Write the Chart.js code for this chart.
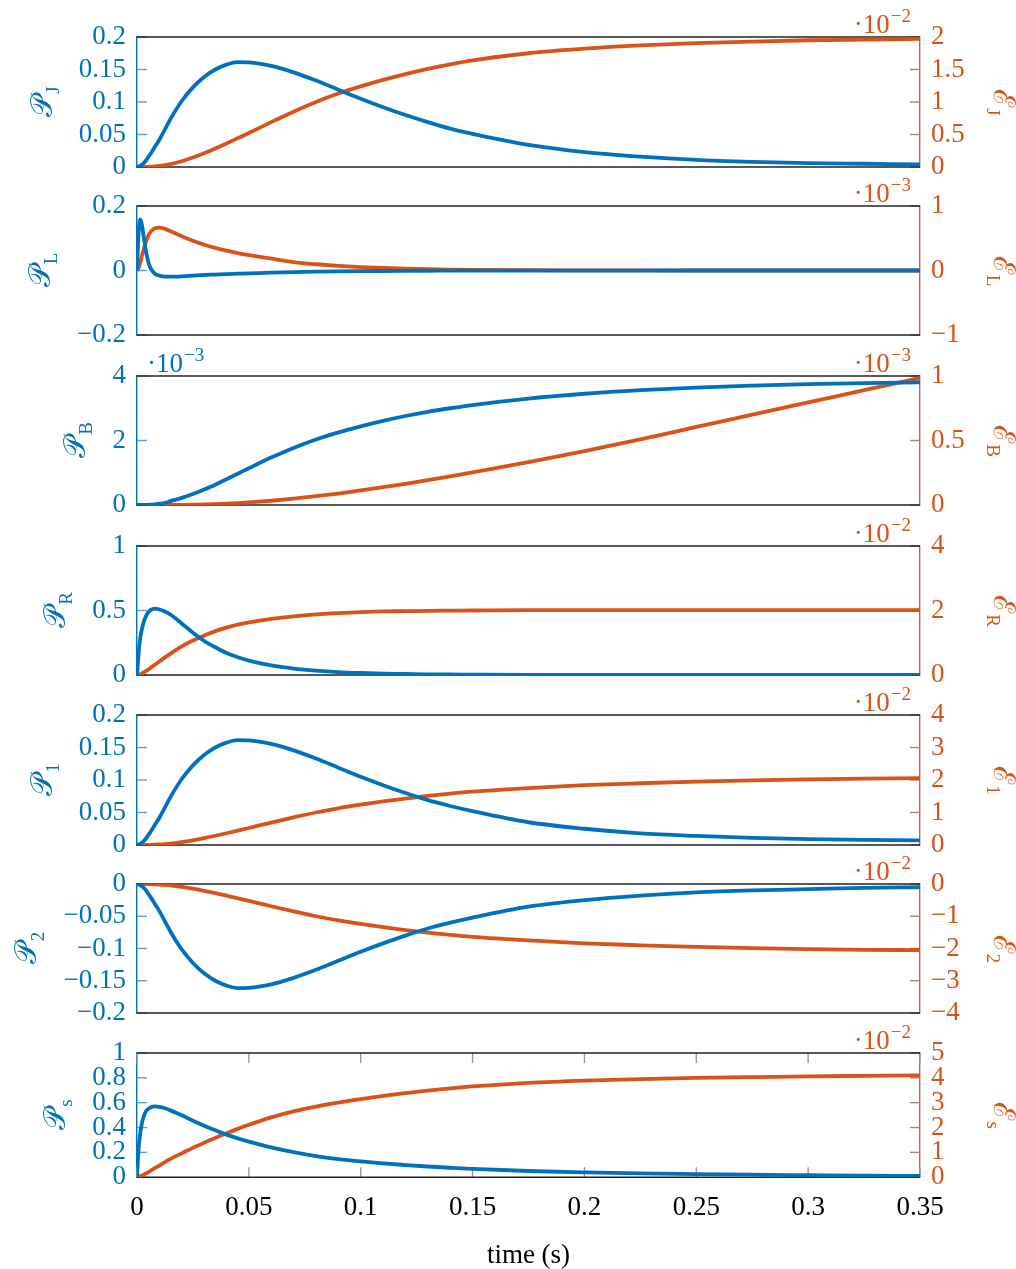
<!DOCTYPE html>
<html>
<head>
<meta charset="utf-8">
<style>
  html, body { margin: 0; padding: 0; background: #fff; }
  #page { position: relative; width: 1016px; height: 1269px; overflow: hidden; }
  .panel { position: absolute; left: 0; width: 1016px; }
</style>
</head>
<body>
<div id="page"></div>
<script src="https://cdn.jsdelivr.net/npm/chart.js@4.4.1/dist/chart.umd.min.js"></script>
<script>
// time samples (s)
var time = [0, 0.0005, 0.001, 0.0015, 0.002, 0.003, 0.004, 0.005, 0.006, 0.008,
            0.01, 0.0125, 0.015, 0.02, 0.025, 0.03, 0.035, 0.04, 0.045, 0.05,
            0.06, 0.07, 0.08, 0.09, 0.1, 0.11, 0.12, 0.13, 0.14, 0.15,
            0.175, 0.2, 0.225, 0.25, 0.275, 0.3, 0.325, 0.35];

// power (left axes) and energy (right axes, in units of the axis multiplier)
var pJ = [0, 0.0005, 0.001, 0.002, 0.003, 0.006, 0.010, 0.015, 0.020, 0.031,
          0.042, 0.058, 0.074, 0.1015, 0.1225, 0.1385, 0.150, 0.1575, 0.1614, 0.161,
          0.1555, 0.1455, 0.133, 0.119, 0.105, 0.092, 0.080, 0.069, 0.059, 0.051,
          0.034, 0.023, 0.016, 0.011, 0.008, 0.006, 0.005, 0.004];
var eJ = [0, 0, 0, 0, 0, 0.001, 0.002, 0.003, 0.005, 0.01,
          0.017, 0.029, 0.045, 0.089, 0.146, 0.212, 0.285, 0.362, 0.442, 0.523,
          0.69, 0.85, 1.0, 1.13, 1.24, 1.34, 1.43, 1.51, 1.58, 1.64,
          1.75, 1.82, 1.87, 1.905, 1.93, 1.95, 1.96, 1.97];

var pL = [0, 0.09, 0.145, 0.158, 0.148, 0.105, 0.06, 0.028, 0.008, -0.010,
          -0.016, -0.019, -0.019, -0.018, -0.016, -0.014, -0.0125, -0.011, -0.010, -0.009,
          -0.0065, -0.0048, -0.0035, -0.0026, -0.002, -0.0015, -0.0011, -0.0008, -0.0006, -0.0005,
          -0.0003, -0.0002, -0.0001, 0, 0, 0, 0, 0];
var eL = [0, 0.02, 0.07, 0.13, 0.2, 0.33, 0.445, 0.535, 0.595, 0.655,
          0.665, 0.645, 0.61, 0.53, 0.46, 0.40, 0.35, 0.307, 0.27, 0.24,
          0.183, 0.13, 0.097, 0.072, 0.053, 0.039, 0.029, 0.021, 0.015, 0.011,
          0.005, 0.002, 0.001, 0, 0, 0, 0, 0];

var pB = [0, 0, 0, 0, 0, 0.002, 0.004, 0.007, 0.011, 0.022,
          0.04, 0.07, 0.12, 0.22, 0.34, 0.48, 0.63, 0.8, 0.97, 1.14,
          1.47, 1.77, 2.03, 2.25, 2.44, 2.61, 2.76, 2.89, 3.0, 3.1,
          3.3, 3.45, 3.56, 3.64, 3.7, 3.75, 3.78, 3.8];
var eB = [0, 0, 0, 0, 0, 0, 0, 0, 0, 0,
          0, 0, 0, 0.001, 0.002, 0.004, 0.007, 0.011, 0.015, 0.02,
          0.033, 0.049, 0.068, 0.089, 0.113, 0.138, 0.164, 0.193, 0.222, 0.253,
          0.333, 0.418, 0.508, 0.605, 0.70, 0.795, 0.89, 0.985];

var pR = [0, 0.12, 0.22, 0.29, 0.34, 0.41, 0.455, 0.485, 0.503, 0.515,
          0.508, 0.493, 0.468, 0.40, 0.328, 0.265, 0.215, 0.17, 0.138, 0.112,
          0.074, 0.05, 0.034, 0.023, 0.016, 0.011, 0.008, 0.005, 0.004, 0.003,
          0.001, 0.0005, 0, 0, 0, 0, 0, 0];
var eR = [0, 0.003, 0.011, 0.024, 0.04, 0.077, 0.12, 0.167, 0.217, 0.32,
          0.42, 0.545, 0.665, 0.89, 1.07, 1.22, 1.36, 1.47, 1.56, 1.63,
          1.74, 1.82, 1.88, 1.92, 1.95, 1.97, 1.98, 1.99, 1.995, 2.0,
          2.01, 2.01, 2.01, 2.01, 2.01, 2.01, 2.01, 2.01];

var p1 = [0, 0.0005, 0.001, 0.002, 0.003, 0.006, 0.010, 0.015, 0.020, 0.031,
          0.042, 0.058, 0.074, 0.1015, 0.1225, 0.1385, 0.150, 0.1575, 0.1614, 0.161,
          0.1555, 0.1455, 0.133, 0.119, 0.105, 0.092, 0.080, 0.069, 0.060, 0.052,
          0.035, 0.025, 0.018, 0.014, 0.011, 0.009, 0.008, 0.007];
var e1 = [0, 0, 0, 0, 0, 0.001, 0.002, 0.003, 0.005, 0.01,
          0.017, 0.029, 0.045, 0.089, 0.146, 0.212, 0.285, 0.362, 0.442, 0.523,
          0.69, 0.85, 1.0, 1.13, 1.24, 1.34, 1.43, 1.51, 1.58, 1.64,
          1.75, 1.84, 1.90, 1.95, 1.99, 2.02, 2.04, 2.06];

var p2 = [0, -0.0005, -0.001, -0.002, -0.003, -0.006, -0.010, -0.015, -0.020, -0.031,
          -0.042, -0.058, -0.074, -0.1015, -0.1225, -0.1385, -0.150, -0.1575, -0.1614, -0.161,
          -0.1555, -0.1455, -0.133, -0.119, -0.105, -0.092, -0.080, -0.069, -0.060, -0.052,
          -0.035, -0.025, -0.018, -0.013, -0.010, -0.008, -0.006, -0.005];
var e2 = [0, 0, 0, 0, 0, -0.001, -0.002, -0.003, -0.005, -0.01,
          -0.017, -0.029, -0.045, -0.089, -0.146, -0.212, -0.285, -0.362, -0.442, -0.523,
          -0.69, -0.85, -1.0, -1.13, -1.24, -1.34, -1.43, -1.51, -1.58, -1.64,
          -1.75, -1.84, -1.90, -1.95, -1.99, -2.02, -2.04, -2.05];

var pS = [0, 0.17, 0.285, 0.36, 0.42, 0.49, 0.53, 0.55, 0.562, 0.57,
          0.567, 0.555, 0.538, 0.498, 0.455, 0.415, 0.378, 0.343, 0.313, 0.287,
          0.240, 0.201, 0.170, 0.146, 0.127, 0.111, 0.098, 0.086, 0.076, 0.067,
          0.05, 0.039, 0.031, 0.025, 0.02, 0.016, 0.012, 0.01];
var eS = [0, 0.005, 0.02, 0.036, 0.056, 0.1, 0.152, 0.2, 0.255, 0.365,
          0.47, 0.61, 0.74, 0.96, 1.18, 1.39, 1.58, 1.77, 1.945, 2.11,
          2.41, 2.65, 2.84, 3.0, 3.14, 3.27, 3.385, 3.485, 3.575, 3.655,
          3.8, 3.89, 3.95, 3.995, 4.03, 4.06, 4.08, 4.1];

// axis ranges [min, max, step]
var xRange = [0, 0.35, 0.05];

var BLUE = '#0072BD', ORANGE = '#D95319';
var FONT = "'Liberation Serif', 'DejaVu Serif', serif";
var TICK_SIZE = 27;

var panels = [
  { top: 37,   bottom: 167,  sub: 'J', left: pJ, right: eJ, lr: [0, 0.2, 0.05],   rr: [0, 2, 0.5],  rexp: '\u22122' },
  { top: 206,  bottom: 335,  sub: 'L', left: pL, right: eL, lr: [-0.2, 0.2, 0.2], rr: [-1, 1, 1],   rexp: '\u22123' },
  { top: 376,  bottom: 505,  sub: 'B', left: pB, right: eB, lr: [0, 4, 2],        rr: [0, 1, 0.5],  rexp: '\u22123', lexp: '\u22123' },
  { top: 546,  bottom: 675,  sub: 'R', left: pR, right: eR, lr: [0, 1, 0.5],      rr: [0, 4, 2],    rexp: '\u22122' },
  { top: 715,  bottom: 845,  sub: '1', left: p1, right: e1, lr: [0, 0.2, 0.05],   rr: [0, 4, 1],    rexp: '\u22122' },
  { top: 884,  bottom: 1013, sub: '2', left: p2, right: e2, lr: [-0.2, 0, 0.05],  rr: [-4, 0, 1],   rexp: '\u22122' },
  { top: 1053, bottom: 1182, sub: 's', left: pS, right: eS, lr: [0, 1, 0.2],      rr: [0, 5, 1],    rexp: '\u22122', last: true }
];

function fmt(v) {
  var s = String(+Number(v).toFixed(4));
  return s.replace('-', '\u2212');
}

function pts(vals) {
  return time.map(function (t, i) { return { x: t, y: vals[i] }; });
}

function seg(ctx, x1, y1, x2, y2) {
  ctx.beginPath(); ctx.moveTo(x1, y1); ctx.lineTo(x2, y2); ctx.stroke();
}

function drawExp(ctx, exp, x, y, align, color) {
  ctx.save();
  ctx.fillStyle = color;
  ctx.textBaseline = 'alphabetic';
  ctx.textAlign = 'left';
  ctx.font = TICK_SIZE + 'px ' + FONT;
  var w1 = ctx.measureText('\u00b710').width;
  ctx.font = '19px ' + FONT;
  var w2 = ctx.measureText(exp).width;
  var x0 = align === 'right' ? x - w1 - w2 : x;
  ctx.font = TICK_SIZE + 'px ' + FONT;
  ctx.fillText('\u00b710', x0, y);
  ctx.font = '19px ' + FONT;
  ctx.fillText(exp, x0 + w1 + 1, y - 11);
  ctx.restore();
}

function drawTitle(ctx, main, sub, cx, cy, rot, color) {
  ctx.save();
  ctx.translate(cx, cy);
  ctx.rotate(rot);
  ctx.fillStyle = color;
  ctx.textBaseline = 'middle';
  ctx.textAlign = 'left';
  ctx.font = '30px ' + FONT;
  var w1 = ctx.measureText(main).width;
  ctx.font = '19px ' + FONT;
  var w2 = ctx.measureText(sub).width;
  var x0 = -(w1 + w2) / 2;
  ctx.font = '30px ' + FONT;
  ctx.fillText(main, x0, -2);
  ctx.font = '19px ' + FONT;
  ctx.fillText(sub, x0 + w1 + 1, 8);
  ctx.restore();
}

var framePlugin = {
  id: 'frame',
  beforeDatasetsDraw: function (chart) {
    var ctx = chart.ctx, a = chart.chartArea, p = chart.options.panel;
    var L = chart.scales.yL, R = chart.scales.yR, X = chart.scales.x;
    ctx.save();
    ctx.lineWidth = 1.4;
    ctx.strokeStyle = '#5d9fd3';
    L.ticks.forEach(function (t) {
      var y = L.getPixelForValue(t.value);
      seg(ctx, a.left, y, a.left + 10, y);
    });
    ctx.strokeStyle = '#b08070';
    R.ticks.forEach(function (t) {
      var y = R.getPixelForValue(t.value);
      seg(ctx, a.right - 10, y, a.right, y);
    });
    if (p.last) {
      ctx.strokeStyle = '#999';
      X.ticks.forEach(function (t) {
        var x = X.getPixelForValue(t.value);
        seg(ctx, x, a.top, x, a.top + 10);
        seg(ctx, x, a.bottom, x, a.bottom - 10);
      });
    }
    ctx.strokeStyle = '#222';
    ctx.lineWidth = 1.5;
    seg(ctx, a.left, a.top, a.right, a.top);
    seg(ctx, a.left, a.bottom, a.right, a.bottom);
    ctx.restore();
  },
  afterDraw: function (chart) {
    var ctx = chart.ctx, a = chart.chartArea, p = chart.options.panel;
    var L = chart.scales.yL;
    var cy = (a.top + a.bottom) / 2;
    // left title placed beyond the widest tick label
    ctx.save();
    ctx.font = TICK_SIZE + 'px ' + FONT;
    var maxW = 0;
    L.ticks.forEach(function (t) { maxW = Math.max(maxW, ctx.measureText(t.label).width); });
    ctx.restore();
    var lx = a.left - 11 - maxW - 33;
    drawTitle(ctx, '\uD835\uDCAB', p.sub, lx, cy, -Math.PI / 2, BLUE);
    drawTitle(ctx, '\u2130', p.sub, 1000, cy, Math.PI / 2, ORANGE);
    if (p.rexp) drawExp(ctx, p.rexp, a.right - 10, a.top - 4, 'right', ORANGE);
    if (p.lexp) drawExp(ctx, p.lexp, a.left + 10, a.top - 4, 'left', BLUE);
  }
};

function makePanel(p) {
  var wrap = document.createElement('div');
  wrap.className = 'panel';
  wrap.style.height = '220px';
  wrap.style.top = '0px';
  var cv = document.createElement('canvas');
  wrap.appendChild(cv);
  document.getElementById('page').appendChild(wrap);

  var tickFont = { family: FONT, size: TICK_SIZE };
  var chart = new Chart(cv, {
    type: 'line',
    data: {
      datasets: [
        { data: pts(p.left), yAxisID: 'yL', borderColor: BLUE, borderWidth: 3.8,
          pointRadius: 0, cubicInterpolationMode: 'monotone' },
        { data: pts(p.right), yAxisID: 'yR', borderColor: ORANGE, borderWidth: 3.8,
          pointRadius: 0, cubicInterpolationMode: 'monotone' }
      ]
    },
    options: {
      panel: p,
      responsive: true,
      maintainAspectRatio: false,
      animation: false,
      events: [],
      layout: { padding: { top: 34, bottom: p.last ? 6 : 4, left: 0, right: 0 } },
      plugins: { legend: { display: false }, tooltip: { enabled: false } },
      scales: {
        x: {
          type: 'linear',
          display: !!p.last,
          min: xRange[0], max: xRange[1],
          grid: { display: false, drawTicks: false },
          border: { display: false },
          ticks: { stepSize: xRange[2], color: '#000', font: tickFont, padding: 15,
                   maxRotation: 0, autoSkip: false, callback: fmt },
          title: { display: true, text: 'time (s)', color: '#000',
                   font: { family: FONT, size: 27 }, padding: { top: 0, bottom: 0 } }
        },
        yL: {
          position: 'left',
          min: p.lr[0], max: p.lr[1],
          grid: { display: false, drawTicks: false },
          border: { display: true, color: BLUE, width: 1.4 },
          ticks: { stepSize: p.lr[2], color: BLUE, font: tickFont, padding: 11,
                   autoSkip: false, callback: fmt },
          afterFit: function (s) { s.width = 137; }
        },
        yR: {
          position: 'right',
          min: p.rr[0], max: p.rr[1],
          grid: { display: false, drawTicks: false },
          border: { display: true, color: '#a8705c', width: 1.4 },
          ticks: { stepSize: p.rr[2], color: ORANGE, font: tickFont, padding: 11,
                   autoSkip: false, callback: fmt },
          afterFit: function (s) { s.width = 96; }
        }
      }
    },
    plugins: [framePlugin]
  });

  // size the canvas so the plot area spans exactly top..bottom
  var plotH = p.bottom - p.top;
  var extra = chart.height - (chart.chartArea.bottom - chart.chartArea.top);
  wrap.style.height = (plotH + extra) + 'px';
  chart.resize();
  wrap.style.top = (p.top - chart.chartArea.top) + 'px';
}

panels.forEach(makePanel);
</script>
</body>
</html>
